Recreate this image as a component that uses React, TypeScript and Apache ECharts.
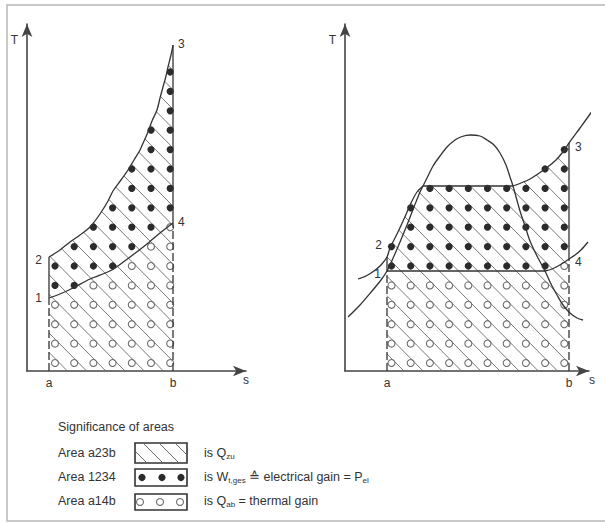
import React, { useEffect, useRef } from "react";
import * as echarts from "echarts";

// ---------- data (s and T in axis units) ----------
// Left diagram
const leftSMax = 21.9;
const leftTMax = 34.7;
const leftA = 2.2;
const leftB = 14.6;
const leftCurve23: number[][] = [
  [2.2, 11.4], [3.3, 12.1], [4.3, 12.9], [5.3, 13.6], [6.3, 14.4], [7.3, 15.7],
  [8.1, 17.0], [8.6, 18.0], [9.4, 19.1], [10.1, 20.1], [10.7, 21.1], [11.3, 22.1],
  [11.7, 23.0], [12.1, 23.9], [12.5, 25.0], [13.0, 26.1], [13.3, 27.3], [13.6, 28.4],
  [13.9, 29.5], [14.1, 30.4], [14.4, 31.6], [14.6, 32.6],
];
const leftCurve14: number[][] = [
  [2.2, 7.3], [3.3, 7.7], [4.6, 8.3], [6.3, 9.2], [8.5, 10.1], [10.3, 11.4],
  [12.0, 12.7], [13.3, 13.8], [14.6, 14.8],
];

// Right diagram
const rightSMax = 24.4;
const rightTMax = 34.7;
const rightA = 4.2;
const rightB = 22.4;
const domeCurve: number[][] = [
  [0.3, 5.4], [1.5, 6.6], [2.7, 8.0], [3.6, 9.1], [4.2, 10.0], [4.9, 11.5], [5.5, 12.9],
  [6.2, 14.6], [6.9, 16.4], [7.5, 17.9], [7.8, 18.5], [8.2, 19.3], [8.8, 20.5], [9.5, 21.5],
  [10.2, 22.4], [11.0, 23.1], [11.7, 23.45], [12.5, 23.6], [13.5, 23.5], [14.2, 23.1],
  [14.9, 22.6], [15.5, 21.8], [16.1, 20.6], [16.5, 19.4], [16.8, 18.5], [17.5, 16.0],
  [18.0, 14.5], [18.5, 13.0], [19.2, 11.5], [20.0, 10.0], [20.6, 8.7], [21.2, 7.6],
  [21.8, 6.6], [22.5, 5.8], [23.2, 5.3], [23.8, 5.1],
];
const highIsobarLiquid: number[][] = [[1.3, 9.2], [2.1, 9.5], [2.9, 10.0], [3.6, 10.6]];
const highIsobarCycle: number[][] = [
  [4.2, 11.4], [4.5, 12.3], [5.2, 13.7], [5.9, 15.2], [6.6, 16.8], [7.2, 17.9], [7.8, 18.5],
  [16.8, 18.5], [18.5, 19.2], [20.2, 20.35], [21.1, 21.1], [21.7, 21.8], [22.4, 22.8],
];
const highIsobarTail: number[][] = [[23.5, 24.3], [24.3, 25.4], [25.0, 26.4]];
const lowIsobarCycle: number[][] = [
  [4.2, 10.0], [20.0, 10.0], [20.7, 10.2], [21.3, 10.5], [21.8, 10.8], [22.4, 11.2],
];
const lowIsobarTail: number[][] = [[23.0, 11.6], [23.6, 12.1], [24.3, 12.9]];

const tickLabels = ["a", "b"];
const axisNameS = "s";
const axisNameT = "T";
const pointNames = ["1", "2", "3", "4"];

const legendTitle = "Significance of areas";
const legendAreas = ["Area a23b", "Area 1234", "Area a14b"];
const legendMeanings = [
  "{n|is Q}{s|zu}",
  "{n|is W}{s|t,ges}{n| \u2259 electrical gain = P}{s|el}",
  "{n|is Q}{s|ab}{n| = thermal gain}",
];

// ---------- styles ----------
const FONT = '"Liberation Sans", Arial, Helvetica, sans-serif';
const TEXT = "#333";
const LINE = "#333";
const AXIS = "#444";
const HATCH = "#6a6a6a";
const DOT = "#2b2b2b";
const RING = "#6e6e6e";
const LEGEND_FONT = 12.5;
const DOT_STEP_S = 1.92;
const DOT_STEP_T = 1.94;
const DOT_START_T = 0.8;
const DOT_TOL = 0.6;
const HATCH_OFFSET_PX = 4.5;

type Pt = [number, number];

function pointInPoly(p: Pt, poly: Pt[]): boolean {
  let inside = false;
  for (let i = 0, j = poly.length - 1; i < poly.length; j = i++) {
    const [xi, yi] = poly[i];
    const [xj, yj] = poly[j];
    if ((yi > p[1]) !== (yj > p[1]) && p[0] < ((xj - xi) * (p[1] - yi)) / (yj - yi) + xi) inside = !inside;
  }
  return inside;
}

function distToPoly(p: Pt, poly: Pt[]): number {
  let best = Infinity;
  for (let i = 0; i < poly.length; i++) {
    const A = poly[i];
    const B = poly[(i + 1) % poly.length];
    const dx = B[0] - A[0];
    const dy = B[1] - A[1];
    const len2 = dx * dx + dy * dy;
    let t = len2 > 0 ? ((p[0] - A[0]) * dx + (p[1] - A[1]) * dy) / len2 : 0;
    t = Math.max(0, Math.min(1, t));
    const qx = A[0] + t * dx - p[0];
    const qy = A[1] + t * dy - p[1];
    best = Math.min(best, Math.sqrt(qx * qx + qy * qy));
  }
  return best;
}

function hatchSegments(poly: Pt[], slope: number, step: number, anchor: number): number[][] {
  const cs = poly.map(([x, y]) => y - slope * x);
  const cmin = Math.min(...cs);
  const cmax = Math.max(...cs);
  const out: number[][] = [];
  for (let k = Math.ceil((cmin - anchor) / step); anchor + k * step <= cmax; k++) {
    const c = anchor + k * step;
    const hits: Pt[] = [];
    for (let i = 0; i < poly.length; i++) {
      const P = poly[i];
      const Q = poly[(i + 1) % poly.length];
      const fp = P[1] - slope * P[0] - c;
      const fq = Q[1] - slope * Q[0] - c;
      if ((fp > 0) !== (fq > 0)) {
        const t = fp / (fp - fq);
        hits.push([P[0] + t * (Q[0] - P[0]), P[1] + t * (Q[1] - P[1])]);
      }
    }
    hits.sort((u, v) => u[0] - v[0]);
    for (let h = 0; h + 1 < hits.length; h += 2) out.push([hits[h][0], hits[h][1], hits[h + 1][0], hits[h + 1][1]]);
  }
  return out;
}

function filledDot(cx: number, cy: number) {
  return { type: "circle", shape: { cx, cy, r: 3.6 }, style: { fill: DOT, stroke: "none" } };
}
function openDot(cx: number, cy: number) {
  return { type: "circle", shape: { cx, cy, r: 3.5 }, style: { fill: "none", stroke: RING, lineWidth: 1.1 } };
}
function hatchLine(s: number[], lw = 0.9) {
  return { type: "line", shape: { x1: s[0], y1: s[1], x2: s[2], y2: s[3] }, style: { stroke: HATCH, lineWidth: lw } };
}

interface PatternCfg {
  hatch: number[][];
  filled: number[][];
  open: number[][];
  a: number;
  b: number;
  colOffset: number;
  tMax: number;
}

function makePatternRenderer(cfg: PatternCfg) {
  return (_params: any, api: any) => {
    const px = (p: number[]): Pt => {
      const c = api.coord(p);
      return [c[0], c[1]];
    };
    const hatchPx = cfg.hatch.map(px);
    const filledPx = cfg.filled.map(px);
    const openPx = cfg.open.map(px);
    const s0 = cfg.a + cfg.colOffset;
    const origin = px([s0, DOT_START_T]);
    const next = px([s0 + DOT_STEP_S, DOT_START_T - DOT_STEP_T]);
    const dx = next[0] - origin[0];
    const dy = next[1] - origin[1];
    const slope = dy / dx;
    const anchor = origin[1] - slope * (origin[0] + HATCH_OFFSET_PX);
    const children: any[] = [];
    hatchSegments(hatchPx, slope, dy, anchor).forEach((s) => children.push(hatchLine(s)));
    const nCols = Math.floor((cfg.b - cfg.a - cfg.colOffset) / DOT_STEP_S) + 1;
    const nRows = Math.floor((cfg.tMax - DOT_START_T) / DOT_STEP_T) + 1;
    for (let i = 0; i < nCols; i++) {
      for (let j = 0; j < nRows; j++) {
        const p = px([s0 + i * DOT_STEP_S, DOT_START_T + j * DOT_STEP_T]);
        if (pointInPoly(p, filledPx) || distToPoly(p, filledPx) < DOT_TOL) children.push(filledDot(p[0], p[1]));
        else if (pointInPoly(p, openPx)) children.push(openDot(p[0], p[1]));
      }
    }
    return { type: "group", children };
  };
}

function lineSeries(data: number[][], grid: number, opts: { smooth?: number; dashed?: boolean } = {}) {
  return {
    type: "line",
    xAxisIndex: grid,
    yAxisIndex: grid,
    data,
    symbol: "none",
    showSymbol: false,
    smooth: opts.smooth ?? false,
    clip: false,
    silent: true,
    z: 3,
    color: LINE,
    lineStyle: { color: LINE, width: 1.3, type: opts.dashed ? [8, 3] : "solid" },
  };
}

// point labels drawn at the points' positions (through the axes) with a small offset
function labelSeries(grid: number, pts: number[][], place: { align: string; dx: number; dy: number }[]) {
  return {
    type: "custom",
    xAxisIndex: grid,
    yAxisIndex: grid,
    data: pts,
    z: 4,
    silent: true,
    clip: false,
    renderItem: (params: any, api: any) => {
      const p = api.coord([api.value(0), api.value(1)]);
      const pl = place[params.dataIndex];
      return {
        type: "text",
        x: Math.round(p[0] + pl.dx),
        y: Math.round(p[1] + pl.dy),
        style: {
          text: pointNames[params.dataIndex],
          fill: TEXT,
          fontSize: 12,
          fontFamily: FONT,
          align: pl.align,
          verticalAlign: "middle",
        },
      };
    },
  };
}

function xAxisFor(grid: number, max: number, a: number, b: number, gap: number) {
  return {
    type: "value",
    gridIndex: grid,
    min: 0,
    max,
    axisLine: { show: true, onZero: false, symbol: ["none", "arrow"], symbolSize: [8, 13], lineStyle: { color: AXIS, width: 1.6 } },
    axisTick: { show: false },
    splitLine: { show: false },
    axisLabel: {
      show: true,
      customValues: [a, b],
      formatter: (v: number) => (Math.abs(v - a) < 1e-6 ? tickLabels[0] : tickLabels[1]),
      color: TEXT,
      fontSize: 12,
      fontFamily: FONT,
      margin: 6,
    },
    name: axisNameS,
    nameLocation: "end",
    nameGap: gap,
    nameMoveOverlap: false,
    nameTextStyle: { color: TEXT, fontSize: 12, fontFamily: FONT, align: "center", verticalAlign: "top", padding: [3, 0, 0, 0] },
  };
}

function yAxisFor(grid: number, max: number) {
  return {
    type: "value",
    gridIndex: grid,
    min: 0,
    max,
    axisLine: { show: true, onZero: false, symbol: ["none", "arrow"], symbolSize: [8, 13], lineStyle: { color: AXIS, width: 1.6 } },
    axisTick: { show: false },
    splitLine: { show: false },
    axisLabel: { show: false },
    name: axisNameT,
    nameLocation: "end",
    nameGap: -16,
    nameMoveOverlap: false,
    nameTextStyle: { color: TEXT, fontSize: 12, fontFamily: FONT, align: "right", verticalAlign: "middle", padding: [0, 9, 0, 0] },
  };
}

function buildOption() {
  // left regions
  const p1L = leftCurve14[0];
  const p4L = leftCurve14[leftCurve14.length - 1];
  const p2L = leftCurve23[0];
  const p3L = leftCurve23[leftCurve23.length - 1];
  const poly1234L = [...leftCurve14, ...[...leftCurve23].reverse()];
  const polyA14BL = [[leftA, 0], ...leftCurve14, [leftB, 0]];
  const polyA23BL = [[leftA, 0], p1L, ...leftCurve23, [leftB, 0]];

  // right regions
  const p1R = lowIsobarCycle[0];
  const p4R = lowIsobarCycle[lowIsobarCycle.length - 1];
  const p2R = highIsobarCycle[0];
  const p3R = highIsobarCycle[highIsobarCycle.length - 1];
  const poly1234R = [...lowIsobarCycle, ...[...highIsobarCycle].reverse()];
  const polyA14BR = [[rightA, 0], ...lowIsobarCycle, [rightB, 0]];
  const polyA23BR = [[rightA, 0], p1R, ...highIsobarCycle, [rightB, 0]];

  const flatStart = highIsobarCycle.findIndex((p, i) => i > 0 && p[1] === highIsobarCycle[i + 1]?.[1]);
  const highRise = [...highIsobarLiquid, ...highIsobarCycle.slice(0, flatStart + 1)];
  const highFlat = highIsobarCycle.slice(flatStart, flatStart + 2);
  const highSuper = [...highIsobarCycle.slice(flatStart + 1), ...highIsobarTail];
  const lowFlat = lowIsobarCycle.slice(0, 2);
  const lowRise = [...lowIsobarCycle.slice(1), ...lowIsobarTail];

  const series: any[] = [
    {
      type: "custom",
      xAxisIndex: 0,
      yAxisIndex: 0,
      data: [[0, 0]],
      z: 1,
      silent: true,
      clip: false,
      renderItem: makePatternRenderer({ hatch: polyA23BL, filled: poly1234L, open: polyA14BL, a: leftA, b: leftB, colOffset: 0.6, tMax: leftTMax }),
    },
    {
      type: "custom",
      xAxisIndex: 1,
      yAxisIndex: 1,
      data: [[0, 0]],
      z: 1,
      silent: true,
      clip: false,
      renderItem: makePatternRenderer({ hatch: polyA23BR, filled: poly1234R, open: polyA14BR, a: rightA, b: rightB, colOffset: 0.45, tMax: rightTMax }),
    },
    lineSeries(leftCurve23, 0, { smooth: 0.3 }),
    lineSeries(leftCurve14, 0, { smooth: 0.3 }),
    lineSeries([[leftA, 0], p1L], 0, { dashed: true }),
    lineSeries([p1L, p2L], 0),
    lineSeries([p4L, p3L], 0),
    lineSeries([[leftB, 0], p4L], 0, { dashed: true }),
    lineSeries(domeCurve, 1, { smooth: 0.3 }),
    lineSeries(highRise, 1, { smooth: 0.3 }),
    lineSeries(highFlat, 1),
    lineSeries(highSuper, 1, { smooth: 0.3 }),
    lineSeries(lowFlat, 1),
    lineSeries(lowRise, 1, { smooth: 0.3 }),
    lineSeries([[rightA, 0], p1R], 1, { dashed: true }),
    lineSeries([p1R, p2R], 1),
    lineSeries([p4R, p3R], 1),
    lineSeries([[rightB, 0], p4R], 1, { dashed: true }),
    labelSeries(0, [p1L, p2L, p3L, p4L], [
      { align: "right", dx: -7, dy: 0 },
      { align: "right", dx: -7, dy: 3 },
      { align: "left", dx: 5, dy: -1 },
      { align: "left", dx: 5, dy: -1 },
    ]),
    labelSeries(1, [p1R, p2R, p3R, p4R], [
      { align: "right", dx: -6, dy: 3 },
      { align: "right", dx: -5, dy: -12 },
      { align: "left", dx: 6, dy: 4 },
      { align: "left", dx: 6, dy: 3 },
    ]),
  ];

  // legend graphics
  const textStyle = (text: string) => ({ text, fill: TEXT, fontSize: LEGEND_FONT, fontFamily: FONT, verticalAlign: "middle" });
  const rows = [453, 477, 501];
  const boxes = [
    { x: 135, y: 443, width: 52, height: 20 },
    { x: 135, y: 469, width: 52, height: 17 },
    { x: 135, y: 494, width: 52, height: 16 },
  ];
  const elements: any[] = [
    { type: "rect", shape: { x: 7, y: 5, width: 640, height: 516 }, style: { fill: "none", stroke: "#b8b8b8", lineWidth: 1.5 }, silent: true },
    { type: "text", x: 58, y: 427, style: textStyle(legendTitle), silent: true },
  ];
  legendAreas.forEach((t, i) => {
    elements.push({ type: "text", x: 58, y: rows[i], style: textStyle(t), silent: true });
    elements.push({
      type: "text",
      x: 204,
      y: rows[i],
      silent: true,
      style: {
        text: legendMeanings[i],
        fill: TEXT,
        fontSize: LEGEND_FONT,
        fontFamily: FONT,
        verticalAlign: "middle",
        rich: {
          n: { fontSize: LEGEND_FONT, lineHeight: 15, fill: TEXT, fontFamily: FONT },
          s: { fontSize: 8, fill: TEXT, fontFamily: FONT, verticalAlign: "bottom" },
        },
      },
    });
  });
  // box 1: hatch
  const b1 = boxes[0];
  const b1Poly: Pt[] = [
    [b1.x + 1, b1.y + 1], [b1.x + b1.width - 1, b1.y + 1], [b1.x + b1.width - 1, b1.y + b1.height - 1], [b1.x + 1, b1.y + b1.height - 1],
  ];
  hatchSegments(b1Poly, 1, 16, 300).forEach((s) => elements.push({ ...hatchLine(s, 1), silent: true }));
  // box 2: filled dots; box 3: open dots
  [142, 162, 181].forEach((cx) => elements.push({ ...filledDot(cx, 477.5), silent: true }));
  [140, 160, 180].forEach((cx) => elements.push({ ...openDot(cx, 502), silent: true }));
  boxes.forEach((b) => elements.push({ type: "rect", shape: b, style: { fill: "none", stroke: "#333", lineWidth: 1.6 }, silent: true }));

  return {
    animation: false,
    backgroundColor: "#fff",
    textStyle: { fontFamily: FONT },
    grid: [
      { left: 27, top: 24, width: 219, height: 347, containLabel: false, outerBoundsMode: "none" },
      { left: 345, top: 24, width: 244, height: 347, containLabel: false, outerBoundsMode: "none" },
    ],
    xAxis: [xAxisFor(0, leftSMax, leftA, leftB, 0), xAxisFor(1, rightSMax, rightA, rightB, 3)],
    yAxis: [yAxisFor(0, leftTMax), yAxisFor(1, rightTMax)],
    series,
    graphic: { elements },
  };
}

export default function App() {
  const ref = useRef<HTMLDivElement>(null);
  useEffect(() => {
    if (!ref.current) return;
    const chart = echarts.init(ref.current, null, { renderer: "svg" });
    chart.setOption(buildOption() as any);
    return () => chart.dispose();
  }, []);
  return (
    <div
      ref={ref}
      style={{ position: "fixed", left: 0, top: 0, width: 605, height: 523, background: "#fff" }}
    />
  );
}
